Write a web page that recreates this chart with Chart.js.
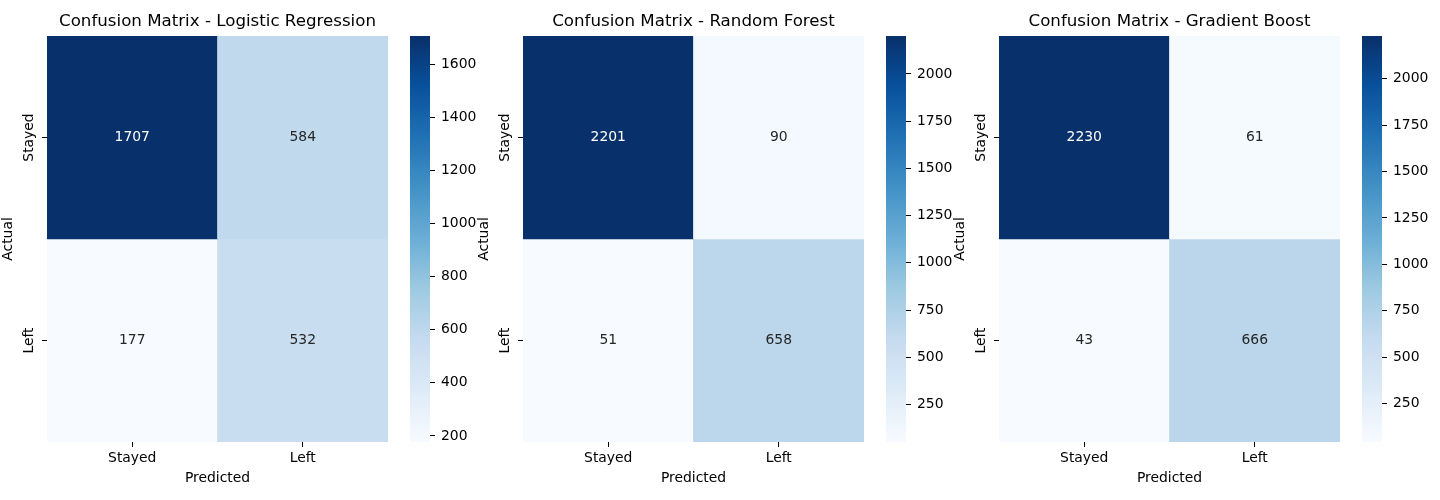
<!DOCTYPE html>
<html>
<head>
<meta charset="utf-8">
<script src="https://cdn.jsdelivr.net/npm/chart.js@4.4.1/dist/chart.umd.min.js"></script>
<style>
  html, body { margin: 0; padding: 0; background: #fff; }
  #fig { position: relative; width: 1440px; height: 500px; overflow: hidden; }
  #fig canvas { position: absolute; top: 0; }
</style>
</head>
<body>
<div id="fig">
  <canvas id="cm0" width="400" height="500" style="left:0px"></canvas>
  <canvas id="cb0" width="71" height="500" style="left:405px"></canvas>
  <canvas id="cm1" width="400" height="500" style="left:476px"></canvas>
  <canvas id="cb1" width="71" height="500" style="left:881px"></canvas>
  <canvas id="cm2" width="400" height="500" style="left:952px"></canvas>
  <canvas id="cb2" width="71" height="500" style="left:1357px"></canvas>
</div>
<script>
// матрицы ошибок трёх моделей

const classLabels = ["Stayed", "Left"];

const lrValues = [[1707, 584], [177, 532]];
const rfValues = [[2201, 90], [51, 658]];
const gbValues = [[2230, 61], [43, 666]];

const lrCbarTicks = [200, 400, 600, 800, 1000, 1200, 1400, 1600];
const rfCbarTicks = [250, 500, 750, 1000, 1250, 1500, 1750, 2000];
const gbCbarTicks = [250, 500, 750, 1000, 1250, 1500, 1750, 2000];

// палитра Blues (colorbrewer, 9 опорных цветов)
const BLUES = ["#f7fbff", "#deebf7", "#c6dbef", "#9ecae1", "#6baed6",
               "#4292c6", "#2171b5", "#08519c", "#08306b"];

const FONT = "DejaVu Sans";
Chart.defaults.font.family = FONT;
Chart.defaults.color = "#000";

function hexToRgb(hex) {
  const n = parseInt(hex.slice(1), 16);
  return [(n >> 16) & 255, (n >> 8) & 255, n & 255];
}

function blues(t) {
  t = Math.max(0, Math.min(1, t));
  const pos = t * (BLUES.length - 1);
  const i = Math.min(Math.floor(pos), BLUES.length - 2);
  const f = pos - i;
  const a = hexToRgb(BLUES[i]), b = hexToRgb(BLUES[i + 1]);
  const c = a.map((v, k) => Math.round(v + (b[k] - v) * f));
  return `rgb(${c[0]}, ${c[1]}, ${c[2]})`;
}

function luminance(rgbStr) {
  const parts = rgbStr.match(/\d+/g).map(Number);
  const lin = parts.map(v => {
    v = v / 255;
    return v <= 0.03928 ? v / 12.92 : Math.pow((v + 0.055) / 1.055, 2.4);
  });
  return 0.2126 * lin[0] + 0.7152 * lin[1] + 0.0722 * lin[2];
}

const cellTextPlugin = {
  id: "cellText",
  afterDatasetsDraw(chart) {
    const ctx = chart.ctx;
    ctx.save();
    ctx.font = `13.9px '${FONT}'`;
    ctx.textAlign = "center";
    ctx.textBaseline = "middle";
    chart.data.datasets.forEach((ds, di) => {
      chart.getDatasetMeta(di).data.forEach((bar, ci) => {
        const { x, y } = bar.getCenterPoint();
        ctx.fillStyle = luminance(ds.backgroundColor[ci]) > 0.408 ? "#262626" : "#ffffff";
        ctx.fillText(String(ds.counts[ci]), x, y);
      });
    });
    ctx.restore();
  }
};

const yLabelsPlugin = {
  id: "yLabels",
  afterDraw(chart) {
    const scale = chart.scales.y;
    const ctx = chart.ctx;
    ctx.save();
    ctx.font = `13.9px '${FONT}'`;
    ctx.fillStyle = "#000";
    ctx.textAlign = "center";
    ctx.textBaseline = "middle";
    scale.ticks.forEach((t, i) => {
      const py = scale.getPixelForValue(t.value);
      ctx.save();
      ctx.translate(scale.right - 18, py);
      ctx.rotate(-Math.PI / 2);
      ctx.fillText(classLabels[i], 0, 0);
      ctx.restore();
    });
    ctx.restore();
  }
};

function renderMatrix(canvasId, modelName, values) {
  const flat = values.flat();
  const vmin = Math.min(...flat);
  const vmax = Math.max(...flat);

  const datasets = values.map((row, r) => ({
    label: classLabels[r],
    data: row.map(() => [r, r + 1]),
    counts: row,
    backgroundColor: row.map(v => blues((v - vmin) / (vmax - vmin))),
    borderWidth: 0,
    grouped: false,
    barPercentage: 1,
    categoryPercentage: 1
  }));

  new Chart(document.getElementById(canvasId), {
    type: "bar",
    data: { labels: classLabels, datasets },
    options: {
      responsive: false,
      animation: false,
      layout: { padding: { left: 0, right: 12, top: 0, bottom: 0 } },
      plugins: {
        legend: { display: false },
        tooltip: { enabled: false },
        title: {
          display: true,
          text: "Confusion Matrix - " + modelName,
          fullSize: false,
          color: "#000",
          font: { size: 16.67, weight: "normal" },
          padding: { top: 12, bottom: 4 }
        }
      },
      scales: {
        x: {
          type: "category",
          offset: true,
          grid: { display: true, drawOnChartArea: false, offset: false, tickLength: 5, color: "#000", lineWidth: 1 },
          border: { display: false },
          ticks: { color: "#000", font: { size: 13.9 }, padding: 3, maxRotation: 0 },
          title: { display: true, text: "Predicted", color: "#000", font: { size: 13.9 }, padding: { top: 0, bottom: 13 } },
          afterFit: s => { s.height = 58; }
        },
        y: {
          type: "linear",
          min: 0,
          max: 2,
          reverse: true,
          afterBuildTicks: s => { s.ticks = [{ value: 0.5 }, { value: 1.5 }]; },
          grid: { display: true, drawOnChartArea: false, tickLength: 5, color: "#000", lineWidth: 1 },
          border: { display: false },
          ticks: { display: false },
          title: { display: true, text: "Actual", color: "#000", font: { size: 13.9 }, padding: { top: 0, bottom: 0 } },
          afterFit: s => { s.width = 47; }
        }
      }
    },
    plugins: [cellTextPlugin, yLabelsPlugin]
  });
}

function renderColorbar(canvasId, values, tickValues) {
  const flat = values.flat();
  const vmin = Math.min(...flat);
  const vmax = Math.max(...flat);

  new Chart(document.getElementById(canvasId), {
    type: "bar",
    data: {
      labels: [""],
      datasets: [{
        data: [[vmin, vmax]],
        borderWidth: 0,
        barPercentage: 1,
        categoryPercentage: 1,
        backgroundColor: c => {
          const area = c.chart.chartArea;
          if (!area) return BLUES[0];
          const g = c.chart.ctx.createLinearGradient(0, area.bottom, 0, area.top);
          BLUES.forEach((col, i) => g.addColorStop(i / (BLUES.length - 1), col));
          return g;
        }
      }]
    },
    options: {
      responsive: false,
      animation: false,
      layout: { padding: { left: 5, right: 0, top: 36, bottom: 58 } },
      plugins: { legend: { display: false }, tooltip: { enabled: false } },
      scales: {
        x: { display: false },
        y: {
          position: "right",
          min: vmin,
          max: vmax,
          afterBuildTicks: s => { s.ticks = tickValues.map(v => ({ value: v })); },
          grid: { display: true, drawOnChartArea: false, tickLength: 5, color: "#000", lineWidth: 1 },
          border: { display: false },
          ticks: { color: "#000", font: { size: 13.9 }, padding: 6, callback: v => String(v) },
          afterFit: s => { s.width = 46; }
        }
      }
    }
  });
}

renderMatrix("cm0", "Logistic Regression", lrValues);
renderColorbar("cb0", lrValues, lrCbarTicks);
renderMatrix("cm1", "Random Forest", rfValues);
renderColorbar("cb1", rfValues, rfCbarTicks);
renderMatrix("cm2", "Gradient Boost", gbValues);
renderColorbar("cb2", gbValues, gbCbarTicks);
</script>
</body>
</html>
